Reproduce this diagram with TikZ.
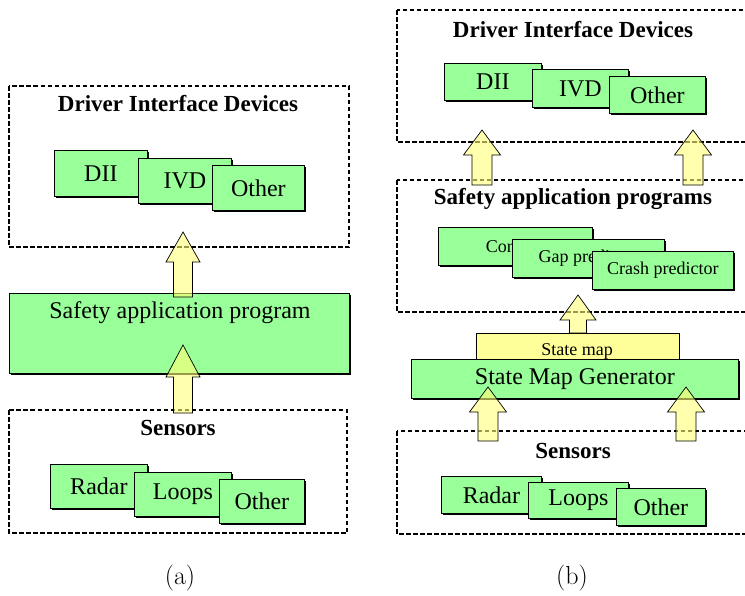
\documentclass[tikz,border=0pt]{standalone}
\usepackage{fontspec}
\setmainfont{Liberation Serif}
\newfontfamily\lmfont{Latin Modern Roman}
\usetikzlibrary{shadows}
\definecolor{gfill}{HTML}{99FF99}
\definecolor{yfill}{HTML}{FFFF99}
\definecolor{afill}{HTML}{FFFF77}
\tikzset{
  dbox/.style={draw, line width=1.2pt, dash pattern=on 4.5pt off 2.5pt},
  gbox/.style={draw, line width=0.8pt, fill=gfill, anchor=north west, inner sep=0pt,
    font=\fontsize{24}{26}\selectfont,
    drop shadow={shadow xshift=1.5pt, shadow yshift=-1.5pt, fill=black, opacity=1}},
  sbox/.style={gbox, font=\fontsize{18}{20}\selectfont},
  ttl/.style={font=\bfseries\fontsize{23}{25}\selectfont},
  lbl/.style={font=\fontsize{24}{26}\selectfont},
  slbl/.style={font=\fontsize{18}{20}\selectfont},
  blk/.style={draw, line width=0.7pt, fill=afill, fill opacity=0.6},
  capt/.style={font=\lmfont\fontsize{26}{28}\selectfont}
}
\newcommand{\blockarrow}[6]{%
  \draw[blk] (#1,#2) -- (#1+#5,#3) -- (#1+#6,#3) -- (#1+#6,#4) -- (#1-#6,#4) -- (#1-#6,#3) -- (#1-#5,#3) -- cycle;}
\begin{document}
\begin{tikzpicture}[x=1pt,y=-1pt]
\clip (0,0) rectangle (745,595);
\fill[white] (0,0) rectangle (745,595);
% ---------------- (a) ----------------
\draw[dbox] (9,86) rectangle (349,247);
\node[ttl] (aDIDt) at (178,104) {Driver Interface Devices};
\node[gbox, minimum width=93pt, minimum height=46pt] (aDII) at (54,150) {DII};
\node[gbox, minimum width=93pt, minimum height=45pt] (aIVD) at (138,158) {IVD};
\node[gbox, minimum width=92pt, minimum height=45pt] (aOth) at (212,165) {Other};

\node[gbox, minimum width=340pt, minimum height=80pt] (aSAP) at (9,293) {};
\node[lbl] (aSAPt) at (180,313) {Safety application program};

\draw[dbox] (9,410) rectangle (347,533);
\node[ttl] (aSent) at (178,428) {Sensors};
\node[gbox, minimum width=97pt, minimum height=44pt] (aRad) at (50,464) {Radar};
\node[gbox, minimum width=97pt, minimum height=44pt] (aLoo) at (134,472) {Loops};
\node[gbox, minimum width=85pt, minimum height=44pt] (aOth2) at (219,479) {Other};

\blockarrow{183}{232}{262}{297}{17}{9.5}
\blockarrow{183}{345}{377}{413}{17}{9.5}

\node[capt] (capa) at (180,578) {(a)};

% ---------------- (b) ----------------
\draw[dbox] (397,10) rectangle (760,142);
\node[ttl] (bDIDt) at (573,30) {Driver Interface Devices};
\node[gbox, minimum width=97pt, minimum height=37pt] (bDII) at (444,63) {DII};
\node[gbox, minimum width=96pt, minimum height=38pt] (bIVD) at (532,69) {IVD};
\node[gbox, minimum width=96pt, minimum height=37pt] (bOth) at (609,76) {Other};

\draw[dbox] (397,180) rectangle (760,312);
\node[ttl] (bSAPt) at (573,199) {Safety application programs};
\node[sbox, minimum width=154pt, minimum height=38pt] (bCon) at (438,227) {Conflict};
\node[sbox, minimum width=152pt, minimum height=38pt] (bGap) at (512,239) {Gap predictor};
\node[sbox, minimum width=141pt, minimum height=38pt] (bCra) at (592,251) {Crash predictor};

\node[draw, line width=0.8pt, fill=yfill, anchor=north west, minimum width=203pt, minimum height=27pt, inner sep=0pt] (bSM) at (476,333) {};
\node[slbl] (bSMt) at (577,351) {State map};
\node[gbox, minimum width=327pt, minimum height=39pt] (bSMG) at (411,359) {State Map Generator};

\draw[dbox] (397,431) rectangle (760,534);
\node[ttl] (bSent) at (573,451) {Sensors};
\node[gbox, minimum width=100pt, minimum height=37pt] (bRad) at (441,476) {Radar};
\node[gbox, minimum width=100pt, minimum height=36pt] (bLoo) at (528,482) {Loops};
\node[gbox, minimum width=89pt, minimum height=37pt] (bOth2) at (616,488) {Other};

\blockarrow{482}{130}{155}{185}{18.5}{10}
\blockarrow{693}{130}{155}{185}{18.5}{10}
\blockarrow{578}{295}{320}{333}{18}{8.5}
\blockarrow{488}{387}{412}{441}{18.5}{10}
\blockarrow{686}{387}{412}{441}{18.5}{10}

\node[capt] (capb) at (572,578) {(b)};
\end{tikzpicture}
\end{document}
